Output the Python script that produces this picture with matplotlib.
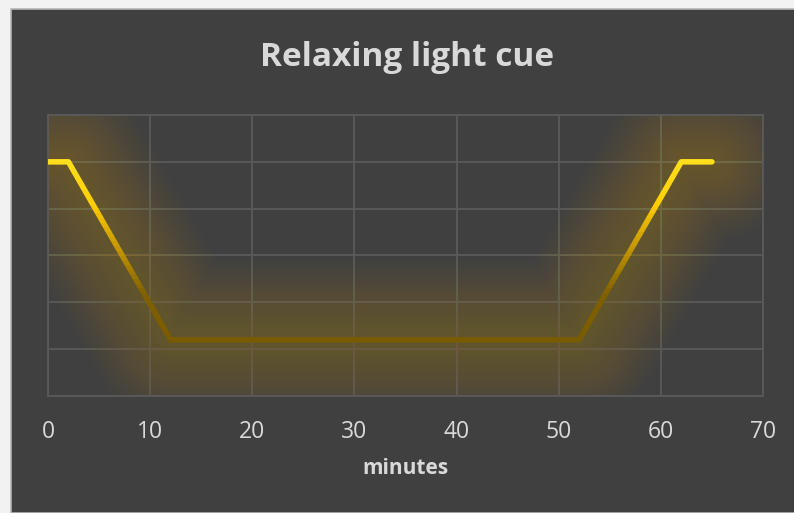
import numpy as np
import matplotlib
matplotlib.use("Agg")
import matplotlib.pyplot as plt
from matplotlib.patches import Rectangle
from matplotlib.colors import LinearSegmentedColormap

# data (minutes vs light level)
minutes = [0, 2, 12, 52, 62, 65]
level = [5, 5, 1.2, 1.2, 5, 5]
xticks = [0, 10, 20, 30, 40, 50, 60, 70]

bg = '#404040'
grid_c = '#5a5a5a'
text_c = '#d9d9d9'

plt.rcParams['font.family'] = ['Open Sans', 'DejaVu Sans']

fig = plt.figure(figsize=(7.94, 5.13), dpi=100, facecolor='#f2f2f2')
# dark chart area with thin light border on the left/top
fig.patches.append(Rectangle((11 / 794, 0), 1, 1 - 9 / 513, transform=fig.transFigure,
                             facecolor=bg, edgecolor='#b5b5b5', linewidth=1.2, zorder=-10))

ax = fig.add_axes([48 / 794, 117 / 513, 715 / 794, 281 / 513])
ax.set_zorder(5)
ax.set_facecolor(bg)
ax.patch.set_alpha(0)
ax.set_xlim(0, 70)
ax.set_ylim(0, 6)
ax.set_xticks(xticks)
ax.set_yticks(range(7))
ax.set_yticklabels([])
ax.grid(True, color=grid_c, linewidth=1.3)
ax.set_axisbelow(True)
ax.tick_params(length=0, colors=text_c, labelsize=16.5, pad=17)
ax.tick_params(axis='y', length=0)
for s in ax.spines.values():
    s.set_color(grid_c)
    s.set_linewidth(1.3)

cmap = LinearSegmentedColormap.from_list('gold', ['#7a5c00', '#806000', '#c49600', '#ffcf00', '#ffe020'])
glow_cmap = LinearSegmentedColormap.from_list('glow', ['#d49810', '#d8a414', '#e0b01c'])

# colour the curve by height, band by band
nb = 60
edges = np.linspace(0, 6, nb + 1)
for i in range(nb):
    y0, y1 = edges[i], edges[i + 1]
    t = np.clip(((y0 + y1) / 2 - 1.2) / 3.9, 0, 1)
    c = cmap(t)
    gc = glow_cmap(t)
    clip = Rectangle((0, y0), 70, y1 - y0, transform=ax.transData)
    # soft glow
    for w in np.linspace(115, 14, 20):
        ln, = ax.plot(minutes, level, color=gc, linewidth=w, alpha=0.015,
                      solid_joinstyle='round', solid_capstyle='round', zorder=2)
        ln.set_clip_path(clip)
    ln, = ax.plot(minutes, level, color=c, linewidth=4.0,
                  solid_joinstyle='round', solid_capstyle='round', zorder=3)
    ln.set_clip_path(clip)

ax.set_xlabel('minutes', color=text_c, fontsize=15, fontweight='bold', labelpad=10)
fig.text(0.513, 0.888, 'Relaxing light cue', color=text_c, fontsize=24,
         fontweight='bold', ha='center', va='center')

fig.savefig('out.png', dpi=100, facecolor=fig.get_facecolor())
